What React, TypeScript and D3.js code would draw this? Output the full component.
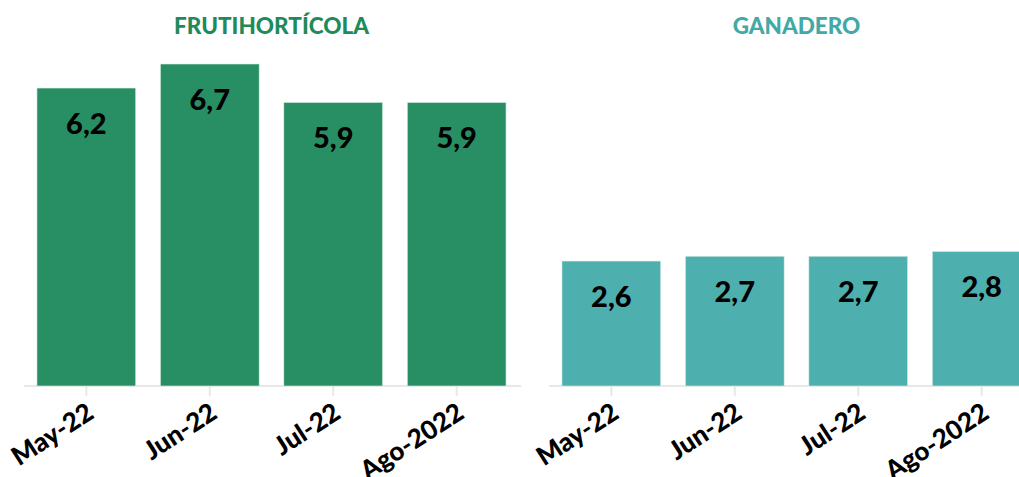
import React from "react";
import * as d3 from "d3";

const months = ["May-22", "Jun-22", "Jul-22", "Ago-2022"];
const frutiValues = [6.2, 6.7, 5.9, 5.9];
const ganaderoValues = [2.6, 2.7, 2.7, 2.8];
const panelTitles = ["FRUTIHORTÍCOLA", "GANADERO"];
const panelColors = ["#288F64", "#4EAFAF"];
const titleColors = ["#1F8A5B", "#42A9A6"];

const W = 1019;
const H = 477;
const baseY = 386;
const topY = 64;
const panels = [
  { title: panelTitles[0], values: frutiValues, color: panelColors[0], tcolor: titleColors[0], x0: 24, x1: 519 },
  { title: panelTitles[1], values: ganaderoValues, color: panelColors[1], tcolor: titleColors[1], x0: 549, x1: 1044 },
];

const fmt = (v: number) => v.toFixed(1).replace(".", ",");

export default function App() {
  const y = d3.scaleLinear().domain([0, 6.7]).range([baseY, topY]);
  const font = "'Lato', 'Open Sans', sans-serif";
  return (
    <svg width={W} height={H} style={{ position: "absolute", left: 0, top: 0, overflow: "hidden" }}>
      <rect width={W} height={H} fill="#fff" />
      {panels.map((p, pi) => {
        const x = d3.scaleBand<string>().domain(months).range([p.x0, p.x1]).paddingInner(0.2).paddingOuter(0.105);
        return (
          <g key={pi}>
            <text x={(p.x0 + p.x1) / 2} y={34} textAnchor="middle" fill={p.tcolor} fontFamily={font} fontWeight={900} fontSize={22.5}>
              {p.title}
            </text>
            <line x1={p.x0} x2={p.x1 + 2} y1={baseY} y2={baseY} stroke="#e8e8e8" strokeWidth={2} />
            {months.map((m, i) => {
              const cx = (x(m) as number) + x.bandwidth() / 2;
              return (
                <g key={m}>
                  <line x1={cx} x2={cx} y1={baseY} y2={baseY + 10} stroke="#e8e8e8" strokeWidth={2} />
                  <rect x={x(m)} y={y(p.values[i])} width={x.bandwidth()} height={baseY - y(p.values[i])} fill={p.color} stroke="#d8efe6" strokeWidth={0.6} />
                  <text x={cx} y={y(p.values[i]) + 46} textAnchor="middle" fill="#000" fontFamily={font} fontWeight={900} fontSize={29}>
                    {fmt(p.values[i])}
                  </text>
                  <text transform={`translate(${cx + 9},${baseY + 31}) rotate(-33)`} textAnchor="end" fill="#000" fontFamily={font} fontWeight={900} fontSize={26}>
                    {m}
                  </text>
                </g>
              );
            })}
          </g>
        );
      })}
    </svg>
  );
}
